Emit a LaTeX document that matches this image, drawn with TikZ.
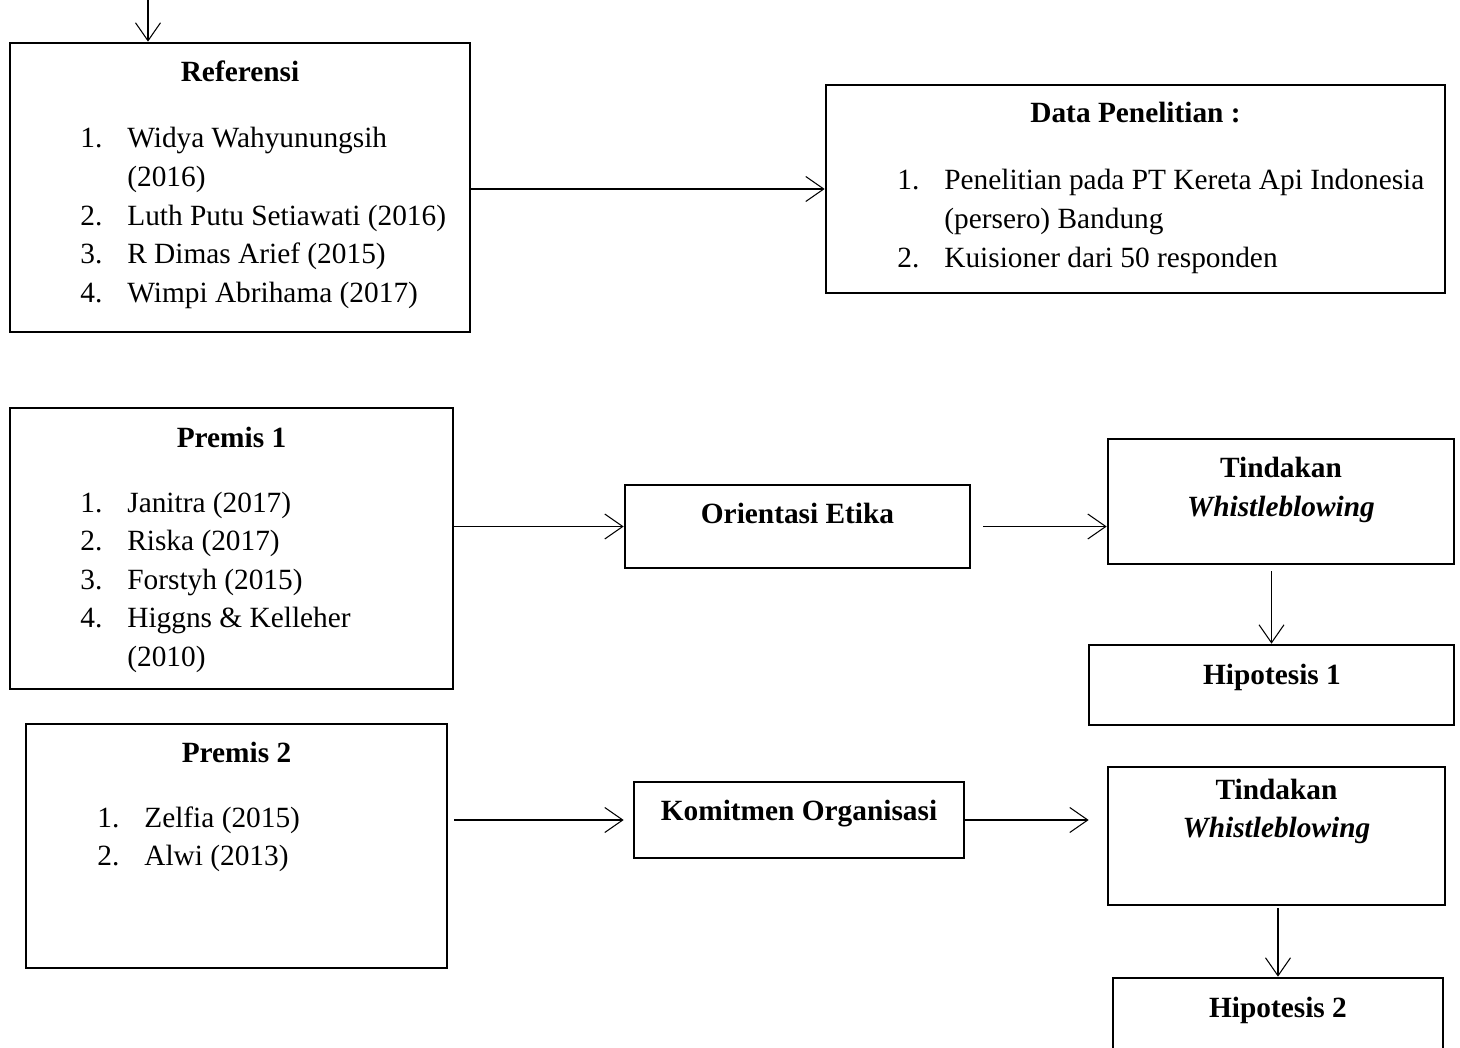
\documentclass[tikz,border=0pt]{standalone}
\usepackage{fontspec}
\setmainfont{Liberation Serif}
\usepackage{tikz}
\usetikzlibrary{arrows.meta,positioning,calc}
\newcommand{\numlist}[1]{\begin{tabular}[t]{@{}p{0.94cm}@{}l@{}}#1\end{tabular}}
\newcommand{\twoline}[2]{\begin{tabular}[t]{@{}c@{}}#1\\#2\end{tabular}}

\begin{document}
\begin{tikzpicture}[
    box/.style={draw,line width=1.5pt,inner sep=0pt},
    txt/.style={inner sep=0pt,anchor=base,font=\fontsize{16.7}{22}\selectfont},
    lst/.style={txt,anchor=base west},
    arr/.style={-{Straight Barb[length=3.6mm,width=5mm]},line width=0.6pt}]
  \useasboundingbox (0,0) rectangle (29.2,-20.96);

  \node[box,minimum width=9.2cm,minimum height=5.78cm] (ref) at (4.8,-3.75) {};
  \node[box,minimum width=12.38cm,minimum height=4.16cm] (data) at (22.71,-3.78) {};
  \node[box,minimum width=8.86cm,minimum height=5.62cm] (p1) at (4.63,-10.97) {};
  \node[box,minimum width=6.9cm,minimum height=1.66cm] (oe) at (15.95,-10.53) {};
  \node[box,minimum width=6.92cm,minimum height=2.5cm] (tw1) at (25.62,-10.03) {};
  \node[box,minimum width=7.3cm,minimum height=1.6cm] (h1) at (25.43,-13.7) {};
  \node[box,minimum width=8.42cm,minimum height=4.88cm] (p2) at (4.73,-16.92) {};
  \node[box,minimum width=6.6cm,minimum height=1.52cm] (km) at (15.98,-16.4) {};
  \node[box,minimum width=6.74cm,minimum height=2.76cm] (tw2) at (25.53,-16.72) {};
  \node[box,minimum width=6.6cm,minimum height=1.84cm] (h2) at (25.56,-20.48) {};

  \node[txt] (reftitle) at (4.8,-1.64) {\bfseries Referensi};
  \node[lst] (reflist) at (1.6,-2.96) {\numlist{
    1. & Widya Wahyunungsih\\
       & (2016)\\
    2. & Luth Putu Setiawati (2016)\\
    3. & R Dimas Arief (2015)\\
    4. & Wimpi Abrihama (2017)}};
  \node[txt] (datatitle) at (22.71,-2.46) {\bfseries Data Penelitian :};
  \node[lst] (datalist) at (17.94,-3.8) {\numlist{
    1. & Penelitian pada PT Kereta Api Indonesia\\
       & (persero) Bandung\\
    2. & Kuisioner dari 50 responden}};
  \node[txt] (p1title) at (4.63,-8.94) {\bfseries Premis 1};
  \node[lst] (p1list) at (1.6,-10.24) {\numlist{
    1. & Janitra (2017)\\
    2. & Riska (2017)\\
    3. & Forstyh (2015)\\
    4. & Higgns \& Kelleher\\
       & (2010)}};
  \node[txt] (oetext) at (15.95,-10.48) {\bfseries Orientasi Etika};
  \node[txt] (tw1text) at (25.62,-9.56)
        {\bfseries\twoline{Tindakan}{\itshape Whistleblowing}};
  \node[txt] (h1text) at (25.44,-13.68) {\bfseries Hipotesis 1};
  \node[txt] (p2title) at (4.73,-15.24) {\bfseries Premis 2};
  \node[lst] (p2list) at (1.94,-16.54) {\numlist{
    1. & Zelfia (2015)\\
    2. & Alwi (2013)}};
  \node[txt] (kmtext) at (15.98,-16.4) {\bfseries Komitmen Organisasi};
  \node[txt] (tw2text) at (25.53,-15.98)
        {\bfseries\twoline{Tindakan}{\itshape Whistleblowing}};
  \node[txt] (h2text) at (25.56,-20.34) {\bfseries Hipotesis 2};

  \coordinate (in) at (2.96,0);
  \draw[arr] (in) -- (in |- ref.north);
  \draw[arr] (ref.east |- data.west) -- (data.west);
  \draw[arr] (p1.east |- oe.west) -- (oe.west);
  \draw[arr,shorten <=0.24cm] (oe.east) -- (oe.east -| tw1.west);
  \draw[arr,shorten <=0.12cm] (tw1.south -| h1.north) -- (h1.north);
  \draw[arr,shorten <=0.12cm,shorten >=0.18cm] (p2.east |- km.west) -- (km.west);
  \draw[arr,shorten >=0.36cm] (km.east) -- (km.east -| tw2.west);
  \draw[arr,shorten <=0.04cm] (tw2.south -| h2.north) -- (h2.north);
\end{tikzpicture}
\end{document}
